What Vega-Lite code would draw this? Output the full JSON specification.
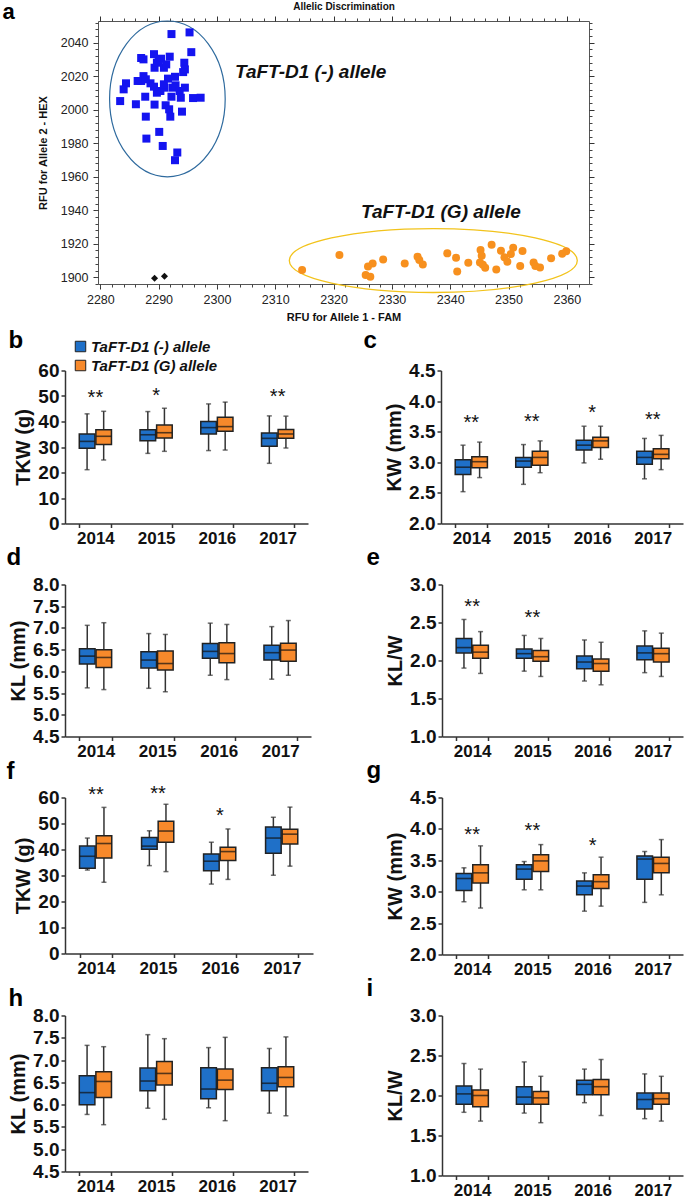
{
"$schema": "https://vega.github.io/schema/vega-lite/v6.json",
"padding": {"left": 1, "top": -1, "right": 2, "bottom": 0},
"spacing": 5.5,
"config": {
 "font": "Liberation Sans",
 "view": {"stroke": null},
 "axis": {"grid": false, "labelOverlap": false, "domainColor": "#333", "domainWidth": 1.5, "tickColor": "#333", "tickWidth": 1.5, "tickSize": 4, "labelFontWeight": "bold", "labelColor": "#111", "titleFontWeight": "bold", "titleColor": "#111", "titleFontSize": 20},
 "axisX": {"labelFontSize": 17, "labelAngle": 0, "labelPadding": 3},
 "axisY": {"labelFontSize": 19, "labelPadding": 2, "titlePadding": 4, "tickCount": 20}
},
"datasets": {
 "neg": [{"x":2292.2,"y":2045.2},{"x":2295.3,"y":2046.2},{"x":2295.6,"y":2034.4},{"x":2289.2,"y":2033.2},{"x":2287.0,"y":2030.9},{"x":2287.4,"y":2030.1},{"x":2291.9,"y":2031.7},{"x":2290.4,"y":2030.5},{"x":2290.0,"y":2028.9},{"x":2289.3,"y":2025.1},{"x":2290.9,"y":2025.1},{"x":2294.4,"y":2028.1},{"x":2294.5,"y":2024.1},{"x":2294.2,"y":2022.5},{"x":2291.6,"y":2018.6},{"x":2292.8,"y":2019.7},{"x":2287.4,"y":2020.1},{"x":2287.0,"y":2017.2},{"x":2288.6,"y":2015.8},{"x":2289.2,"y":2013.8},{"x":2290.3,"y":2011.2},{"x":2291.0,"y":2013.2},{"x":2292.4,"y":2013.2},{"x":2292.9,"y":2014.6},{"x":2293.6,"y":2011.2},{"x":2294.5,"y":2013.2},{"x":2284.4,"y":2015.8},{"x":2284.0,"y":2012.2},{"x":2283.4,"y":2005.2},{"x":2286.1,"y":2003.3},{"x":2287.7,"y":2007.8},{"x":2289.3,"y":2003.1},{"x":2291.2,"y":2002.7},{"x":2291.8,"y":2000.3},{"x":2292.0,"y":1995.9},{"x":2292.2,"y":2007.8},{"x":2293.8,"y":2007.2},{"x":2295.9,"y":2007.0},{"x":2297.2,"y":2007.2},{"x":2294.0,"y":1998.9},{"x":2287.8,"y":1995.9},{"x":2290.1,"y":1986.8},{"x":2287.9,"y":1982.8},{"x":2290.7,"y":1978.4},{"x":2293.2,"y":1974.5},{"x":2292.8,"y":1969.9},{"x":2289.7,"y":2010.2},{"x":2290.9,"y":2015.2},{"x":2287.8,"y":2018.2},{"x":2286.4,"y":2017.2},{"x":2289.7,"y":2028.1},{"x":2291.3,"y":2027.1}],
 "gal": [{"x":2314.6,"y":1904.4},{"x":2321.0,"y":1913.3},{"x":2325.9,"y":1906.5},{"x":2326.7,"y":1908.3},{"x":2325.5,"y":1901.4},{"x":2326.3,"y":1900.4},{"x":2328.5,"y":1910.7},{"x":2332.2,"y":1908.3},{"x":2334.4,"y":1912.3},{"x":2334.7,"y":1910.3},{"x":2335.3,"y":1907.7},{"x":2339.5,"y":1914.3},{"x":2341.0,"y":1911.7},{"x":2341.2,"y":1903.4},{"x":2343.1,"y":1908.7},{"x":2345.2,"y":1916.3},{"x":2345.4,"y":1912.9},{"x":2345.1,"y":1908.9},{"x":2345.6,"y":1907.5},{"x":2346.0,"y":1905.7},{"x":2347.1,"y":1919.5},{"x":2347.9,"y":1904.6},{"x":2348.7,"y":1915.9},{"x":2349.3,"y":1911.9},{"x":2349.8,"y":1909.3},{"x":2350.4,"y":1913.9},{"x":2350.8,"y":1917.7},{"x":2352.0,"y":1906.7},{"x":2352.4,"y":1915.7},{"x":2354.3,"y":1908.9},{"x":2354.6,"y":1906.7},{"x":2355.4,"y":1905.9},{"x":2357.3,"y":1911.3},{"x":2359.2,"y":1914.1},{"x":2359.9,"y":1915.5}],
 "ntc": [{"x":2289.3,"y":1899.4},{"x":2291.0,"y":1900.6}],
 "b": [
  {"year":"2014","allele":"TaFT-D1 (-) allele","min":21.1,"q1":29.5,"median":32.2,"q3":35.1,"max":43.0},
  {"year":"2014","allele":"TaFT-D1 (G) allele","min":24.9,"q1":31.0,"median":34.2,"q3":36.8,"max":44.0},
  {"year":"2015","allele":"TaFT-D1 (-) allele","min":27.5,"q1":32.5,"median":34.8,"q3":36.8,"max":43.9},
  {"year":"2015","allele":"TaFT-D1 (G) allele","min":28.3,"q1":33.5,"median":35.6,"q3":38.6,"max":45.2},
  {"year":"2016","allele":"TaFT-D1 (-) allele","min":28.6,"q1":35.1,"median":37.6,"q3":40.0,"max":46.9},
  {"year":"2016","allele":"TaFT-D1 (G) allele","min":28.8,"q1":36.2,"median":38.0,"q3":41.7,"max":47.6},
  {"year":"2017","allele":"TaFT-D1 (-) allele","min":23.6,"q1":30.3,"median":33.4,"q3":35.5,"max":42.2},
  {"year":"2017","allele":"TaFT-D1 (G) allele","min":29.6,"q1":33.4,"median":35.1,"q3":36.9,"max":42.1}],
 "c": [
  {"year":"2014","allele":"TaFT-D1 (-) allele","min":2.52,"q1":2.80,"median":2.92,"q3":3.04,"max":3.28},
  {"year":"2014","allele":"TaFT-D1 (G) allele","min":2.75,"q1":2.91,"median":3.01,"q3":3.09,"max":3.33},
  {"year":"2015","allele":"TaFT-D1 (-) allele","min":2.64,"q1":2.92,"median":3.02,"q3":3.08,"max":3.29},
  {"year":"2015","allele":"TaFT-D1 (G) allele","min":2.83,"q1":2.95,"median":3.08,"q3":3.18,"max":3.35},
  {"year":"2016","allele":"TaFT-D1 (-) allele","min":2.99,"q1":3.20,"median":3.28,"q3":3.36,"max":3.59},
  {"year":"2016","allele":"TaFT-D1 (G) allele","min":3.05,"q1":3.24,"median":3.35,"q3":3.41,"max":3.59},
  {"year":"2017","allele":"TaFT-D1 (-) allele","min":2.73,"q1":2.97,"median":3.08,"q3":3.18,"max":3.39},
  {"year":"2017","allele":"TaFT-D1 (G) allele","min":2.88,"q1":3.06,"median":3.13,"q3":3.22,"max":3.44}],
 "d": [
  {"year":"2014","allele":"TaFT-D1 (-) allele","min":5.62,"q1":6.17,"median":6.35,"q3":6.52,"max":7.06},
  {"year":"2014","allele":"TaFT-D1 (G) allele","min":5.58,"q1":6.09,"median":6.32,"q3":6.50,"max":7.12},
  {"year":"2015","allele":"TaFT-D1 (-) allele","min":5.61,"q1":6.08,"median":6.26,"q3":6.45,"max":6.87},
  {"year":"2015","allele":"TaFT-D1 (G) allele","min":5.53,"q1":6.03,"median":6.18,"q3":6.47,"max":6.85},
  {"year":"2016","allele":"TaFT-D1 (-) allele","min":5.91,"q1":6.30,"median":6.46,"q3":6.64,"max":7.11},
  {"year":"2016","allele":"TaFT-D1 (G) allele","min":5.81,"q1":6.20,"median":6.41,"q3":6.66,"max":7.08},
  {"year":"2017","allele":"TaFT-D1 (-) allele","min":5.82,"q1":6.26,"median":6.43,"q3":6.60,"max":7.03},
  {"year":"2017","allele":"TaFT-D1 (G) allele","min":5.91,"q1":6.23,"median":6.49,"q3":6.65,"max":7.17}],
 "e": [
  {"year":"2014","allele":"TaFT-D1 (-) allele","min":1.90,"q1":2.10,"median":2.17,"q3":2.29,"max":2.54},
  {"year":"2014","allele":"TaFT-D1 (G) allele","min":1.83,"q1":2.03,"median":2.11,"q3":2.20,"max":2.38},
  {"year":"2015","allele":"TaFT-D1 (-) allele","min":1.86,"q1":2.03,"median":2.09,"q3":2.15,"max":2.33},
  {"year":"2015","allele":"TaFT-D1 (G) allele","min":1.79,"q1":1.99,"median":2.05,"q3":2.13,"max":2.29},
  {"year":"2016","allele":"TaFT-D1 (-) allele","min":1.73,"q1":1.89,"median":1.98,"q3":2.06,"max":2.27},
  {"year":"2016","allele":"TaFT-D1 (G) allele","min":1.68,"q1":1.86,"median":1.96,"q3":2.02,"max":2.24},
  {"year":"2017","allele":"TaFT-D1 (-) allele","min":1.84,"q1":2.01,"median":2.10,"q3":2.19,"max":2.39},
  {"year":"2017","allele":"TaFT-D1 (G) allele","min":1.79,"q1":1.98,"median":2.09,"q3":2.16,"max":2.36}],
 "f": [
  {"year":"2014","allele":"TaFT-D1 (-) allele","min":32.1,"q1":32.8,"median":37.4,"q3":41.3,"max":44.4},
  {"year":"2014","allele":"TaFT-D1 (G) allele","min":27.4,"q1":36.7,"median":42.3,"q3":45.3,"max":56.2},
  {"year":"2015","allele":"TaFT-D1 (-) allele","min":33.8,"q1":40.1,"median":41.3,"q3":44.6,"max":47.2},
  {"year":"2015","allele":"TaFT-D1 (G) allele","min":31.5,"q1":42.8,"median":47.1,"q3":50.9,"max":57.4},
  {"year":"2016","allele":"TaFT-D1 (-) allele","min":26.7,"q1":31.8,"median":35.5,"q3":38.3,"max":42.8},
  {"year":"2016","allele":"TaFT-D1 (G) allele","min":28.5,"q1":35.8,"median":39.2,"q3":40.9,"max":47.9},
  {"year":"2017","allele":"TaFT-D1 (-) allele","min":30.1,"q1":38.6,"median":44.4,"q3":48.7,"max":52.4},
  {"year":"2017","allele":"TaFT-D1 (G) allele","min":33.6,"q1":42.1,"median":45.9,"q3":47.8,"max":56.3}],
 "g": [
  {"year":"2014","allele":"TaFT-D1 (-) allele","min":2.84,"q1":3.02,"median":3.21,"q3":3.29,"max":3.38},
  {"year":"2014","allele":"TaFT-D1 (G) allele","min":2.74,"q1":3.14,"median":3.30,"q3":3.43,"max":3.73},
  {"year":"2015","allele":"TaFT-D1 (-) allele","min":3.03,"q1":3.20,"median":3.36,"q3":3.43,"max":3.48},
  {"year":"2015","allele":"TaFT-D1 (G) allele","min":3.03,"q1":3.32,"median":3.49,"q3":3.59,"max":3.75},
  {"year":"2016","allele":"TaFT-D1 (-) allele","min":2.69,"q1":2.95,"median":3.09,"q3":3.17,"max":3.30},
  {"year":"2016","allele":"TaFT-D1 (G) allele","min":2.77,"q1":3.05,"median":3.16,"q3":3.27,"max":3.55},
  {"year":"2017","allele":"TaFT-D1 (-) allele","min":2.83,"q1":3.20,"median":3.52,"q3":3.57,"max":3.64},
  {"year":"2017","allele":"TaFT-D1 (G) allele","min":2.95,"q1":3.30,"median":3.45,"q3":3.55,"max":3.83}],
 "h": [
  {"year":"2014","allele":"TaFT-D1 (-) allele","min":5.78,"q1":6.00,"median":6.27,"q3":6.65,"max":7.33},
  {"year":"2014","allele":"TaFT-D1 (G) allele","min":5.55,"q1":6.16,"median":6.52,"q3":6.74,"max":7.30},
  {"year":"2015","allele":"TaFT-D1 (-) allele","min":5.92,"q1":6.31,"median":6.53,"q3":6.82,"max":7.57},
  {"year":"2015","allele":"TaFT-D1 (G) allele","min":5.67,"q1":6.44,"median":6.70,"q3":6.97,"max":7.48},
  {"year":"2016","allele":"TaFT-D1 (-) allele","min":5.93,"q1":6.13,"median":6.35,"q3":6.83,"max":7.28},
  {"year":"2016","allele":"TaFT-D1 (G) allele","min":5.64,"q1":6.34,"median":6.55,"q3":6.80,"max":7.51},
  {"year":"2017","allele":"TaFT-D1 (-) allele","min":5.81,"q1":6.31,"median":6.48,"q3":6.83,"max":7.26},
  {"year":"2017","allele":"TaFT-D1 (G) allele","min":5.75,"q1":6.40,"median":6.61,"q3":6.85,"max":7.52}],
 "i": [
  {"year":"2014","allele":"TaFT-D1 (-) allele","min":1.79,"q1":1.89,"median":2.02,"q3":2.12,"max":2.40},
  {"year":"2014","allele":"TaFT-D1 (G) allele","min":1.68,"q1":1.86,"median":2.00,"q3":2.07,"max":2.33},
  {"year":"2015","allele":"TaFT-D1 (-) allele","min":1.78,"q1":1.89,"median":1.98,"q3":2.11,"max":2.42},
  {"year":"2015","allele":"TaFT-D1 (G) allele","min":1.66,"q1":1.89,"median":1.97,"q3":2.05,"max":2.24},
  {"year":"2016","allele":"TaFT-D1 (-) allele","min":1.91,"q1":2.01,"median":2.14,"q3":2.19,"max":2.33},
  {"year":"2016","allele":"TaFT-D1 (G) allele","min":1.75,"q1":2.01,"median":2.11,"q3":2.20,"max":2.45},
  {"year":"2017","allele":"TaFT-D1 (-) allele","min":1.71,"q1":1.83,"median":1.95,"q3":2.03,"max":2.27},
  {"year":"2017","allele":"TaFT-D1 (G) allele","min":1.68,"q1":1.89,"median":1.96,"q3":2.03,"max":2.24}],
 "b_sig": [{"year":"2014","sig":"**","pos":51},{"year":"2015","sig":"*","pos":52},{"year":"2017","sig":"**","pos":51.5}],
 "c_sig": [{"year":"2014","sig":"**","pos":3.72},{"year":"2015","sig":"**","pos":3.74},{"year":"2016","sig":"*","pos":3.89},{"year":"2017","sig":"**","pos":3.78}],
 "e_sig": [{"year":"2014","sig":"**","pos":2.77},{"year":"2015","sig":"**","pos":2.62}],
 "f_sig": [{"year":"2014","sig":"**","pos":62.9},{"year":"2015","sig":"**","pos":63.3},{"year":"2016","sig":"*","pos":55.0}],
 "g_sig": [{"year":"2014","sig":"**","pos":3.98},{"year":"2015","sig":"**","pos":4.04},{"year":"2016","sig":"*","pos":3.80}]
},
"vconcat": [
 {"hconcat": [
  {"width": 1, "height": 263, "data": {"values": []}, "mark": {"type": "point", "opacity": 0}, "encoding": {}},
  {
  "width": 491, "height": 263,
  "view": {"stroke": "#555", "strokeWidth": 1},
  "resolve": {"axis": {"x": "independent", "y": "independent"}},
  "layer": [
   {"data": {"values": [{"x": 2291.5, "y": 2006.5}]},
    "mark": {"type": "point", "shape": "M -0.742 0 A 0.742 1 0 1 0 0.742 0 A 0.742 1 0 1 0 -0.742 0 Z", "size": 24274, "filled": false, "color": "#2E6A9E", "strokeWidth": 1.2, "opacity": 1},
    "encoding": {
     "x": {"field": "x", "type": "quantitative", "title": "RFU for Allele 1 - FAM", "scale": {"domain": [2279.6, 2363.8], "nice": false, "zero": false},
      "axis": {"orient": "bottom", "values": [2280,2290,2300,2310,2320,2330,2340,2350,2360], "tickCount": 100, "format": "d", "domain": false, "tickSize": 5, "tickWidth": 1, "tickColor": "#333", "labelFontSize": 12.5, "labelFontWeight": "normal", "labelColor": "#222", "labelPadding": 4, "labelFlush": false, "titleFontSize": 11, "titlePadding": 6}},
     "y": {"field": "y", "type": "quantitative", "title": "RFU for Allele 2 - HEX", "scale": {"domain": [1896, 2053], "nice": false, "zero": false},
      "axis": {"orient": "left", "values": [1900,1920,1940,1960,1980,2000,2020,2040], "tickCount": 100, "format": "d", "domain": false, "tickSize": 5, "tickWidth": 1, "tickColor": "#333", "labelFontSize": 12.5, "labelFontWeight": "normal", "labelColor": "#222", "labelPadding": 5, "titleFontSize": 11, "titlePadding": 12}}
    }},
   {"data": {"values": [{"x": 2337.1, "y": 1910}]},
    "mark": {"type": "point", "shape": "M -1 0 A 1 0.222 0 1 0 1 0 A 1 0.222 0 1 0 -1 0 Z", "size": 82944, "filled": false, "color": "#F2C31B", "strokeWidth": 1.3, "opacity": 1},
    "encoding": {
     "x": {"field": "x", "type": "quantitative", "title": "Allelic Discrimination", "scale": {"domain": [2279.6, 2363.8], "nice": false, "zero": false},
      "axis": {"orient": "top", "values": [2280,2282,2284,2286,2288,2290,2292,2294,2296,2298,2300,2302,2304,2306,2308,2310,2312,2314,2316,2318,2320,2322,2324,2326,2328,2330,2332,2334,2336,2338,2340,2342,2344,2346,2348,2350,2352,2354,2356,2358,2360,2362], "tickCount": 100, "labels": false, "domain": false, "tickSize": 3, "tickWidth": 1, "tickColor": "#444", "titleFontSize": 10, "titlePadding": 6}},
     "y": {"field": "y", "type": "quantitative", "title": null, "scale": {"domain": [1896, 2053], "nice": false, "zero": false},
      "axis": {"orient": "right", "values": [1896,1900,1904,1908,1912,1916,1920,1924,1928,1932,1936,1940,1944,1948,1952,1956,1960,1964,1968,1972,1976,1980,1984,1988,1992,1996,2000,2004,2008,2012,2016,2020,2024,2028,2032,2036,2040,2044,2048,2052], "tickCount": 100, "labels": false, "domain": false, "tickSize": 3, "tickWidth": 1, "tickColor": "#444"}}
    }},
   {"data": {"name": "neg"},
    "mark": {"type": "point", "shape": "square", "filled": true, "size": 64, "color": "#1414F0", "opacity": 1},
    "encoding": {
     "x": {"field": "x", "type": "quantitative", "title": null, "scale": {"domain": [2279.6, 2363.8], "nice": false, "zero": false},
      "axis": {"orient": "bottom", "values": [2280,2282,2284,2286,2288,2290,2292,2294,2296,2298,2300,2302,2304,2306,2308,2310,2312,2314,2316,2318,2320,2322,2324,2326,2328,2330,2332,2334,2336,2338,2340,2342,2344,2346,2348,2350,2352,2354,2356,2358,2360,2362], "tickCount": 100, "labels": false, "domain": false, "tickSize": 3, "tickWidth": 1, "tickColor": "#444"}},
     "y": {"field": "y", "type": "quantitative", "title": null, "scale": {"domain": [1896, 2053], "nice": false, "zero": false},
      "axis": {"orient": "left", "values": [1896,1900,1904,1908,1912,1916,1920,1924,1928,1932,1936,1940,1944,1948,1952,1956,1960,1964,1968,1972,1976,1980,1984,1988,1992,1996,2000,2004,2008,2012,2016,2020,2024,2028,2032,2036,2040,2044,2048,2052], "tickCount": 100, "labels": false, "domain": false, "tickSize": 3, "tickWidth": 1, "tickColor": "#444"}}
    }},
   {"data": {"name": "gal"},
    "mark": {"type": "point", "shape": "circle", "filled": true, "size": 64, "color": "#F7901E", "opacity": 1},
    "encoding": {
     "x": {"field": "x", "type": "quantitative", "title": null, "scale": {"domain": [2279.6, 2363.8], "nice": false, "zero": false},
      "axis": {"orient": "top", "values": [2280,2290,2300,2310,2320,2330,2340,2350,2360], "tickCount": 100, "labels": false, "domain": false, "tickSize": 5, "tickWidth": 1, "tickColor": "#333"}},
     "y": {"field": "y", "type": "quantitative", "title": null, "scale": {"domain": [1896, 2053], "nice": false, "zero": false},
      "axis": {"orient": "right", "values": [1900,1920,1940,1960,1980,2000,2020,2040], "tickCount": 100, "labels": false, "domain": false, "tickSize": 5, "tickWidth": 1, "tickColor": "#333"}}
    }},
   {"data": {"name": "ntc"},
    "mark": {"type": "point", "shape": "diamond", "filled": true, "size": 50, "color": "#111", "opacity": 1},
    "encoding": {
     "x": {"field": "x", "type": "quantitative", "title": "a", "scale": {"domain": [2279.6, 2363.8], "nice": false, "zero": false},
      "axis": {"orient": "top", "domain": false, "ticks": false, "labels": false, "titleX": -96, "titleY": -3, "titleAlign": "left", "titleBaseline": "alphabetic", "titleAngle": 0, "titleFontSize": 22, "titleFontWeight": "bold", "titleColor": "#000"}},
     "y": {"field": "y", "type": "quantitative", "axis": null, "scale": {"domain": [1896, 2053], "nice": false, "zero": false}}
    }},
   {"data": {"values": [{"x": 2303.1, "y": 2022.5, "label": "TaFT-D1 (-) allele"}, {"x": 2324.7, "y": 1938.7, "label": "TaFT-D1 (G) allele"}]},
    "mark": {"type": "text", "fontSize": 19, "fontWeight": "bold", "fontStyle": "italic", "align": "left", "baseline": "middle", "color": "#111"},
    "encoding": {
     "x": {"field": "x", "type": "quantitative", "axis": null, "scale": {"domain": [2279.6, 2363.8], "nice": false, "zero": false}},
     "y": {"field": "y", "type": "quantitative", "axis": null, "scale": {"domain": [1896, 2053], "nice": false, "zero": false}},
     "text": {"field": "label"}
    }}
  ]
  }
 ], "spacing": 32, "bounds": "flush"},
 {
  "spacing": -1,
  "vconcat": [
   {"hconcat": [
     {"width": 243, "height": 153,
      "resolve": {"axis": {"x": "independent"}},
      "layer": [
       {"data": {"name": "b"},
        "encoding": {"x": {"field": "year", "type": "nominal", "title": null, "scale": {"paddingInner": 0.47, "paddingOuter": 0.235}, "axis": {"tickBand": "extent"}},
                     "xOffset": {"field": "allele", "type": "nominal", "scale": {"paddingInner": 0.06, "paddingOuter": 0}}},
        "layer": [
         {"mark": {"type": "rule", "color": "#333", "strokeWidth": 1.5}, "encoding": {"y": {"field": "min", "type": "quantitative", "title": "TKW (g)", "scale": {"domain": [0, 60], "nice": false, "zero": false}, "axis": {"values": [0,10,20,30,40,50,60], "tickCount": 20}}, "y2": {"field": "max"}}},
         {"mark": {"type": "tick", "color": "#333", "size": 5, "thickness": 1.5}, "encoding": {"y": {"field": "min", "type": "quantitative", "title": "TKW (g)", "scale": {"domain": [0, 60], "nice": false, "zero": false}}}},
         {"mark": {"type": "tick", "color": "#333", "size": 5, "thickness": 1.5}, "encoding": {"y": {"field": "max", "type": "quantitative", "title": "TKW (g)", "scale": {"domain": [0, 60], "nice": false, "zero": false}}}},
         {"mark": {"type": "bar", "stroke": "#222", "strokeWidth": 1.5}, "encoding": {"y": {"field": "q1", "type": "quantitative", "title": "TKW (g)", "scale": {"domain": [0, 60], "nice": false, "zero": false}}, "y2": {"field": "q3"},
           "color": {"field": "allele", "type": "nominal", "title": null, "scale": {"domain": ["TaFT-D1 (-) allele", "TaFT-D1 (G) allele"], "range": ["#1F70C8", "#F7892B"]},
             "legend": {"orient": "none", "legendX": 8, "legendY": 318, "title": null, "symbolType": "square", "symbolSize": 110, "symbolStrokeColor": "#222", "symbolStrokeWidth": 1, "labelFontSize": 15, "labelFontWeight": "bold", "labelFontStyle": "italic", "labelColor": "#111", "rowPadding": 3, "labelOffset": 3, "padding": 0}}}},
         {"mark": {"type": "tick", "color": "#111", "size": 15, "thickness": 1.6}, "encoding": {"y": {"field": "median", "type": "quantitative", "title": "TKW (g)", "scale": {"domain": [0, 60], "nice": false, "zero": false}}}}
        ]},
       {"data": {"name": "b_sig"}, "mark": {"type": "text", "fontSize": 20, "dy": 11, "baseline": "alphabetic", "color": "#111"},
        "encoding": {"x": {"field": "year", "type": "nominal", "title": "b", "axis": {"orient": "top", "domain": false, "ticks": false, "labels": false, "titleX": -57, "titleY": -23, "titleAlign": "left", "titleBaseline": "alphabetic", "titleAngle": 0, "titleFontSize": 24, "titleColor": "#000"}},
         "y": {"field": "pos", "type": "quantitative", "title": "TKW (g)", "scale": {"domain": [0, 60], "nice": false, "zero": false}}, "text": {"field": "sig"}}}
      ]},
     {"width": 242, "height": 153,
      "resolve": {"axis": {"x": "independent"}},
      "layer": [
       {"data": {"name": "c"},
        "encoding": {"x": {"field": "year", "type": "nominal", "title": null, "scale": {"paddingInner": 0.47, "paddingOuter": 0.235}, "axis": {"tickBand": "extent"}},
                     "xOffset": {"field": "allele", "type": "nominal", "scale": {"paddingInner": 0.06, "paddingOuter": 0}}},
        "layer": [
         {"mark": {"type": "rule", "color": "#333", "strokeWidth": 1.5}, "encoding": {"y": {"field": "min", "type": "quantitative", "title": "KW (mm)", "scale": {"domain": [2, 4.5], "nice": false, "zero": false}, "axis": {"values": [2,2.5,3,3.5,4,4.5], "format": ".1f", "tickCount": 20}}, "y2": {"field": "max"}}},
         {"mark": {"type": "tick", "color": "#333", "size": 5, "thickness": 1.5}, "encoding": {"y": {"field": "min", "type": "quantitative", "title": "KW (mm)", "scale": {"domain": [2, 4.5], "nice": false, "zero": false}}}},
         {"mark": {"type": "tick", "color": "#333", "size": 5, "thickness": 1.5}, "encoding": {"y": {"field": "max", "type": "quantitative", "title": "KW (mm)", "scale": {"domain": [2, 4.5], "nice": false, "zero": false}}}},
         {"mark": {"type": "bar", "stroke": "#222", "strokeWidth": 1.5}, "encoding": {"y": {"field": "q1", "type": "quantitative", "title": "KW (mm)", "scale": {"domain": [2, 4.5], "nice": false, "zero": false}}, "y2": {"field": "q3"},
           "color": {"field": "allele", "type": "nominal", "title": null, "scale": {"domain": ["TaFT-D1 (-) allele", "TaFT-D1 (G) allele"], "range": ["#1F70C8", "#F7892B"]}, "legend": null}}},
         {"mark": {"type": "tick", "color": "#111", "size": 15, "thickness": 1.6}, "encoding": {"y": {"field": "median", "type": "quantitative", "title": "KW (mm)", "scale": {"domain": [2, 4.5], "nice": false, "zero": false}}}}
        ]},
       {"data": {"name": "c_sig"}, "mark": {"type": "text", "fontSize": 20, "dy": 11, "baseline": "alphabetic", "color": "#111"},
        "encoding": {"x": {"field": "year", "type": "nominal", "title": "c", "axis": {"orient": "top", "domain": false, "ticks": false, "labels": false, "titleX": -78, "titleY": -23, "titleAlign": "left", "titleBaseline": "alphabetic", "titleAngle": 0, "titleFontSize": 24, "titleColor": "#000"}},
         "y": {"field": "pos", "type": "quantitative", "title": "KW (mm)", "scale": {"domain": [2, 4.5], "nice": false, "zero": false}}, "text": {"field": "sig"}}}
      ]}
    ], "spacing": 133, "bounds": "flush"},
   {"hconcat": [
     {"width": 246, "height": 152,
      "resolve": {"axis": {"x": "independent"}},
      "layer": [
       {"data": {"name": "d"},
        "encoding": {"x": {"field": "year", "type": "nominal", "title": null, "scale": {"paddingInner": 0.47, "paddingOuter": 0.235}, "axis": {"tickBand": "extent"}},
                     "xOffset": {"field": "allele", "type": "nominal", "scale": {"paddingInner": 0.06, "paddingOuter": 0}}},
        "layer": [
         {"mark": {"type": "rule", "color": "#333", "strokeWidth": 1.5}, "encoding": {"y": {"field": "min", "type": "quantitative", "title": "KL (mm)", "scale": {"domain": [4.5, 8], "nice": false, "zero": false}, "axis": {"values": [4.5,5,5.5,6,6.5,7,7.5,8], "format": ".1f", "tickCount": 20}}, "y2": {"field": "max"}}},
         {"mark": {"type": "tick", "color": "#333", "size": 5, "thickness": 1.5}, "encoding": {"y": {"field": "min", "type": "quantitative", "title": "KL (mm)", "scale": {"domain": [4.5, 8], "nice": false, "zero": false}}}},
         {"mark": {"type": "tick", "color": "#333", "size": 5, "thickness": 1.5}, "encoding": {"y": {"field": "max", "type": "quantitative", "title": "KL (mm)", "scale": {"domain": [4.5, 8], "nice": false, "zero": false}}}},
         {"mark": {"type": "bar", "stroke": "#222", "strokeWidth": 1.5}, "encoding": {"y": {"field": "q1", "type": "quantitative", "title": "KL (mm)", "scale": {"domain": [4.5, 8], "nice": false, "zero": false}}, "y2": {"field": "q3"},
           "color": {"field": "allele", "type": "nominal", "title": null, "scale": {"domain": ["TaFT-D1 (-) allele", "TaFT-D1 (G) allele"], "range": ["#1F70C8", "#F7892B"]}, "legend": null}}},
         {"mark": {"type": "tick", "color": "#111", "size": 15, "thickness": 1.6}, "encoding": {"y": {"field": "median", "type": "quantitative", "title": "KL (mm)", "scale": {"domain": [4.5, 8], "nice": false, "zero": false}}}}
        ]},
       {"data": {"values": []}, "mark": {"type": "text"},
        "encoding": {"x": {"field": "year", "type": "nominal", "title": "d", "axis": {"orient": "top", "domain": false, "ticks": false, "labels": false, "titleX": -59, "titleY": -20, "titleAlign": "left", "titleBaseline": "alphabetic", "titleAngle": 0, "titleFontSize": 24, "titleColor": "#000"}}}}
      ]},
     {"width": 241, "height": 152,
      "resolve": {"axis": {"x": "independent"}},
      "layer": [
       {"data": {"name": "e"},
        "encoding": {"x": {"field": "year", "type": "nominal", "title": null, "scale": {"paddingInner": 0.47, "paddingOuter": 0.235}, "axis": {"tickBand": "extent"}},
                     "xOffset": {"field": "allele", "type": "nominal", "scale": {"paddingInner": 0.06, "paddingOuter": 0}}},
        "layer": [
         {"mark": {"type": "rule", "color": "#333", "strokeWidth": 1.5}, "encoding": {"y": {"field": "min", "type": "quantitative", "title": "KL/W", "scale": {"domain": [1, 3], "nice": false, "zero": false}, "axis": {"values": [1,1.5,2,2.5,3], "format": ".1f", "tickCount": 20}}, "y2": {"field": "max"}}},
         {"mark": {"type": "tick", "color": "#333", "size": 5, "thickness": 1.5}, "encoding": {"y": {"field": "min", "type": "quantitative", "title": "KL/W", "scale": {"domain": [1, 3], "nice": false, "zero": false}}}},
         {"mark": {"type": "tick", "color": "#333", "size": 5, "thickness": 1.5}, "encoding": {"y": {"field": "max", "type": "quantitative", "title": "KL/W", "scale": {"domain": [1, 3], "nice": false, "zero": false}}}},
         {"mark": {"type": "bar", "stroke": "#222", "strokeWidth": 1.5}, "encoding": {"y": {"field": "q1", "type": "quantitative", "title": "KL/W", "scale": {"domain": [1, 3], "nice": false, "zero": false}}, "y2": {"field": "q3"},
           "color": {"field": "allele", "type": "nominal", "title": null, "scale": {"domain": ["TaFT-D1 (-) allele", "TaFT-D1 (G) allele"], "range": ["#1F70C8", "#F7892B"]}, "legend": null}}},
         {"mark": {"type": "tick", "color": "#111", "size": 15, "thickness": 1.6}, "encoding": {"y": {"field": "median", "type": "quantitative", "title": "KL/W", "scale": {"domain": [1, 3], "nice": false, "zero": false}}}}
        ]},
       {"data": {"name": "e_sig"}, "mark": {"type": "text", "fontSize": 20, "dy": 11, "baseline": "alphabetic", "color": "#111"},
        "encoding": {"x": {"field": "year", "type": "nominal", "title": "e", "axis": {"orient": "top", "domain": false, "ticks": false, "labels": false, "titleX": -76, "titleY": -20, "titleAlign": "left", "titleBaseline": "alphabetic", "titleAngle": 0, "titleFontSize": 24, "titleColor": "#000"}},
         "y": {"field": "pos", "type": "quantitative", "title": "KL/W", "scale": {"domain": [1, 3], "nice": false, "zero": false}}, "text": {"field": "sig"}}}
      ]}
    ], "spacing": 131, "bounds": "flush"},
   {"hconcat": [
     {"width": 248, "height": 156,
      "resolve": {"axis": {"x": "independent"}},
      "layer": [
       {"data": {"name": "f"},
        "encoding": {"x": {"field": "year", "type": "nominal", "title": null, "scale": {"paddingInner": 0.47, "paddingOuter": 0.235}, "axis": {"tickBand": "extent"}},
                     "xOffset": {"field": "allele", "type": "nominal", "scale": {"paddingInner": 0.06, "paddingOuter": 0}}},
        "layer": [
         {"mark": {"type": "rule", "color": "#333", "strokeWidth": 1.5}, "encoding": {"y": {"field": "min", "type": "quantitative", "title": "TKW (g)", "scale": {"domain": [0, 60], "nice": false, "zero": false}, "axis": {"values": [0,10,20,30,40,50,60], "tickCount": 20}}, "y2": {"field": "max"}}},
         {"mark": {"type": "tick", "color": "#333", "size": 5, "thickness": 1.5}, "encoding": {"y": {"field": "min", "type": "quantitative", "title": "TKW (g)", "scale": {"domain": [0, 60], "nice": false, "zero": false}}}},
         {"mark": {"type": "tick", "color": "#333", "size": 5, "thickness": 1.5}, "encoding": {"y": {"field": "max", "type": "quantitative", "title": "TKW (g)", "scale": {"domain": [0, 60], "nice": false, "zero": false}}}},
         {"mark": {"type": "bar", "stroke": "#222", "strokeWidth": 1.5}, "encoding": {"y": {"field": "q1", "type": "quantitative", "title": "TKW (g)", "scale": {"domain": [0, 60], "nice": false, "zero": false}}, "y2": {"field": "q3"},
           "color": {"field": "allele", "type": "nominal", "title": null, "scale": {"domain": ["TaFT-D1 (-) allele", "TaFT-D1 (G) allele"], "range": ["#1F70C8", "#F7892B"]}, "legend": null}}},
         {"mark": {"type": "tick", "color": "#111", "size": 15, "thickness": 1.6}, "encoding": {"y": {"field": "median", "type": "quantitative", "title": "TKW (g)", "scale": {"domain": [0, 60], "nice": false, "zero": false}}}}
        ]},
       {"data": {"name": "f_sig"}, "mark": {"type": "text", "fontSize": 20, "dy": 11, "baseline": "alphabetic", "color": "#111"},
        "encoding": {"x": {"field": "year", "type": "nominal", "title": "f", "axis": {"orient": "top", "domain": false, "ticks": false, "labels": false, "titleX": -59, "titleY": -19, "titleAlign": "left", "titleBaseline": "alphabetic", "titleAngle": 0, "titleFontSize": 24, "titleColor": "#000"}},
         "y": {"field": "pos", "type": "quantitative", "title": "TKW (g)", "scale": {"domain": [0, 60], "nice": false, "zero": false}}, "text": {"field": "sig"}}}
      ]},
     {"width": 241, "height": 157,
      "resolve": {"axis": {"x": "independent"}},
      "layer": [
       {"data": {"name": "g"},
        "encoding": {"x": {"field": "year", "type": "nominal", "title": null, "scale": {"paddingInner": 0.47, "paddingOuter": 0.235}, "axis": {"tickBand": "extent"}},
                     "xOffset": {"field": "allele", "type": "nominal", "scale": {"paddingInner": 0.06, "paddingOuter": 0}}},
        "layer": [
         {"mark": {"type": "rule", "color": "#333", "strokeWidth": 1.5}, "encoding": {"y": {"field": "min", "type": "quantitative", "title": "KW (mm)", "scale": {"domain": [2, 4.5], "nice": false, "zero": false}, "axis": {"values": [2,2.5,3,3.5,4,4.5], "format": ".1f", "tickCount": 20}}, "y2": {"field": "max"}}},
         {"mark": {"type": "tick", "color": "#333", "size": 5, "thickness": 1.5}, "encoding": {"y": {"field": "min", "type": "quantitative", "title": "KW (mm)", "scale": {"domain": [2, 4.5], "nice": false, "zero": false}}}},
         {"mark": {"type": "tick", "color": "#333", "size": 5, "thickness": 1.5}, "encoding": {"y": {"field": "max", "type": "quantitative", "title": "KW (mm)", "scale": {"domain": [2, 4.5], "nice": false, "zero": false}}}},
         {"mark": {"type": "bar", "stroke": "#222", "strokeWidth": 1.5}, "encoding": {"y": {"field": "q1", "type": "quantitative", "title": "KW (mm)", "scale": {"domain": [2, 4.5], "nice": false, "zero": false}}, "y2": {"field": "q3"},
           "color": {"field": "allele", "type": "nominal", "title": null, "scale": {"domain": ["TaFT-D1 (-) allele", "TaFT-D1 (G) allele"], "range": ["#1F70C8", "#F7892B"]}, "legend": null}}},
         {"mark": {"type": "tick", "color": "#111", "size": 15, "thickness": 1.6}, "encoding": {"y": {"field": "median", "type": "quantitative", "title": "KW (mm)", "scale": {"domain": [2, 4.5], "nice": false, "zero": false}}}}
        ]},
       {"data": {"name": "g_sig"}, "mark": {"type": "text", "fontSize": 20, "dy": 11, "baseline": "alphabetic", "color": "#111"},
        "encoding": {"x": {"field": "year", "type": "nominal", "title": "g", "axis": {"orient": "top", "domain": false, "ticks": false, "labels": false, "titleX": -76, "titleY": -20, "titleAlign": "left", "titleBaseline": "alphabetic", "titleAngle": 0, "titleFontSize": 24, "titleColor": "#000"}},
         "y": {"field": "pos", "type": "quantitative", "title": "KW (mm)", "scale": {"domain": [2, 4.5], "nice": false, "zero": false}}, "text": {"field": "sig"}}}
      ]}
    ], "spacing": 129, "bounds": "flush"},
   {"hconcat": [
     {"width": 243, "height": 156,
      "resolve": {"axis": {"x": "independent"}},
      "layer": [
       {"data": {"name": "h"},
        "encoding": {"x": {"field": "year", "type": "nominal", "title": null, "scale": {"paddingInner": 0.47, "paddingOuter": 0.235}, "axis": {"tickBand": "extent"}},
                     "xOffset": {"field": "allele", "type": "nominal", "scale": {"paddingInner": 0.06, "paddingOuter": 0}}},
        "layer": [
         {"mark": {"type": "rule", "color": "#333", "strokeWidth": 1.5}, "encoding": {"y": {"field": "min", "type": "quantitative", "title": "KL (mm)", "scale": {"domain": [4.5, 8], "nice": false, "zero": false}, "axis": {"values": [4.5,5,5.5,6,6.5,7,7.5,8], "format": ".1f", "tickCount": 20}}, "y2": {"field": "max"}}},
         {"mark": {"type": "tick", "color": "#333", "size": 5, "thickness": 1.5}, "encoding": {"y": {"field": "min", "type": "quantitative", "title": "KL (mm)", "scale": {"domain": [4.5, 8], "nice": false, "zero": false}}}},
         {"mark": {"type": "tick", "color": "#333", "size": 5, "thickness": 1.5}, "encoding": {"y": {"field": "max", "type": "quantitative", "title": "KL (mm)", "scale": {"domain": [4.5, 8], "nice": false, "zero": false}}}},
         {"mark": {"type": "bar", "stroke": "#222", "strokeWidth": 1.5}, "encoding": {"y": {"field": "q1", "type": "quantitative", "title": "KL (mm)", "scale": {"domain": [4.5, 8], "nice": false, "zero": false}}, "y2": {"field": "q3"},
           "color": {"field": "allele", "type": "nominal", "title": null, "scale": {"domain": ["TaFT-D1 (-) allele", "TaFT-D1 (G) allele"], "range": ["#1F70C8", "#F7892B"]}, "legend": null}}},
         {"mark": {"type": "tick", "color": "#111", "size": 15, "thickness": 1.6}, "encoding": {"y": {"field": "median", "type": "quantitative", "title": "KL (mm)", "scale": {"domain": [4.5, 8], "nice": false, "zero": false}}}}
        ]},
       {"data": {"values": []}, "mark": {"type": "text"},
        "encoding": {"x": {"field": "year", "type": "nominal", "title": "h", "axis": {"orient": "top", "domain": false, "ticks": false, "labels": false, "titleX": -57, "titleY": -10, "titleAlign": "left", "titleBaseline": "alphabetic", "titleAngle": 0, "titleFontSize": 24, "titleColor": "#000"}}}}
      ]},
     {"width": 241, "height": 160,
      "resolve": {"axis": {"x": "independent"}},
      "layer": [
       {"data": {"name": "i"},
        "encoding": {"x": {"field": "year", "type": "nominal", "title": null, "scale": {"paddingInner": 0.47, "paddingOuter": 0.235}, "axis": {"tickBand": "extent"}},
                     "xOffset": {"field": "allele", "type": "nominal", "scale": {"paddingInner": 0.06, "paddingOuter": 0}}},
        "layer": [
         {"mark": {"type": "rule", "color": "#333", "strokeWidth": 1.5}, "encoding": {"y": {"field": "min", "type": "quantitative", "title": "KL/W", "scale": {"domain": [1, 3], "nice": false, "zero": false}, "axis": {"values": [1,1.5,2,2.5,3], "format": ".1f", "tickCount": 20}}, "y2": {"field": "max"}}},
         {"mark": {"type": "tick", "color": "#333", "size": 5, "thickness": 1.5}, "encoding": {"y": {"field": "min", "type": "quantitative", "title": "KL/W", "scale": {"domain": [1, 3], "nice": false, "zero": false}}}},
         {"mark": {"type": "tick", "color": "#333", "size": 5, "thickness": 1.5}, "encoding": {"y": {"field": "max", "type": "quantitative", "title": "KL/W", "scale": {"domain": [1, 3], "nice": false, "zero": false}}}},
         {"mark": {"type": "bar", "stroke": "#222", "strokeWidth": 1.5}, "encoding": {"y": {"field": "q1", "type": "quantitative", "title": "KL/W", "scale": {"domain": [1, 3], "nice": false, "zero": false}}, "y2": {"field": "q3"},
           "color": {"field": "allele", "type": "nominal", "title": null, "scale": {"domain": ["TaFT-D1 (-) allele", "TaFT-D1 (G) allele"], "range": ["#1F70C8", "#F7892B"]}, "legend": null}}},
         {"mark": {"type": "tick", "color": "#111", "size": 15, "thickness": 1.6}, "encoding": {"y": {"field": "median", "type": "quantitative", "title": "KL/W", "scale": {"domain": [1, 3], "nice": false, "zero": false}}}}
        ]},
       {"data": {"values": []}, "mark": {"type": "text"},
        "encoding": {"x": {"field": "year", "type": "nominal", "title": "i", "axis": {"orient": "top", "domain": false, "ticks": false, "labels": false, "titleX": -76, "titleY": -20, "titleAlign": "left", "titleBaseline": "alphabetic", "titleAngle": 0, "titleFontSize": 24, "titleColor": "#000"}}}}
      ]}
    ], "spacing": 134, "bounds": "flush"}
  ]
 }
]
}
